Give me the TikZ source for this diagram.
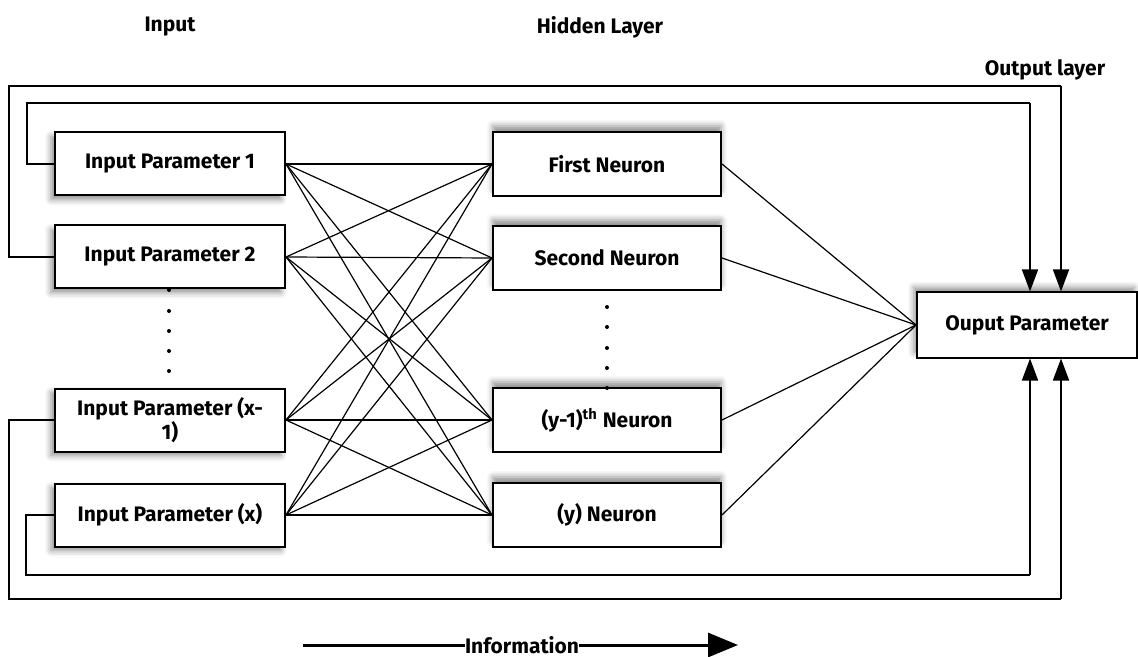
\documentclass[tikz,border=0pt]{standalone}
\usepackage{fontspec}
\setmainfont{Fira Sans}
\usepackage{tikz}
\usetikzlibrary{positioning,arrows.meta,shadows.blur}

\begin{document}
\begin{tikzpicture}[
		x=0.5pt, y=-0.5pt,
		font=\bfseries\fontsize{10.5}{12}\selectfont,
		inbox/.style={rectangle, draw=black, fill=white, line width=1pt, minimum width=115pt, minimum height=31.5pt, align=center,
			blur shadow={shadow xshift=-2pt, shadow yshift=-2pt, shadow blur radius=3pt, shadow opacity=45}},
		neuronbox/.style={rectangle, draw=black, fill=white, line width=1pt, minimum width=114pt, minimum height=32pt,
			blur shadow={shadow xshift=0pt, shadow yshift=3pt, shadow blur radius=3pt, shadow opacity=45}},
		outbox/.style={rectangle, draw=black, fill=white, line width=1pt, minimum width=110pt, minimum height=32.5pt,
			blur shadow={shadow xshift=-1.5pt, shadow yshift=2.5pt, shadow blur radius=3pt, shadow opacity=45}},
		link/.style={line width=0.6pt},
		feedback/.style={line width=0.8pt},
		fbarrow/.style={line width=0.8pt, -{Triangle[width=8pt,length=11pt]}},
	]
		\useasboundingbox (0,0) rectangle (1138,657);

		% titles
		\node (tinput)  at (170,27)  {Input};
		\node (thidden) at (600,27)  {Hidden Layer};
		\node (toutput) at (1045,70) {Output layer};

		% nodes
		\node[inbox] (in1)  at (170,164) {Input Parameter 1};
		\node[inbox] (in2)  at (170,257) {Input Parameter 2};
		\node[inbox] (inx1) at (170,420) {Input Parameter (x-\\1)};
		\node[inbox] (inx)  at (170,515) {Input Parameter (x)};

		\node[neuronbox] (n1)  at (607,164) {First Neuron};
		\node[neuronbox] (n2)  at (607,258) {Second Neuron};
		\node[neuronbox] (ny1) at (607,420) {(y-1)\textsuperscript{th} Neuron};
		\node[neuronbox] (ny)  at (607,515) {(y) Neuron};

		\node[outbox] (out) at (1027,325) {Ouput Parameter};

		% dots
		\foreach \y in {290,311,331,351,371}
			\fill (169,\y) circle (1pt);
		\foreach \y in {307,327,348,368,388}
			\fill (607,\y) circle (1pt);

		% lines
		\foreach \i in {in1,in2,inx1,inx}
			\foreach \j in {n1,n2,ny1,ny}
				\draw[link] (\i.east) -- (\j.west);
		\foreach \j in {n1,n2,ny1,ny}
			\draw[link] (\j.east) -- (out.west);

		% feedback loops
		\coordinate (topin)  at (1030,103);
		\coordinate (topout) at (1061,86);
		\coordinate (botin)  at (1030,575);
		\coordinate (botout) at (1061,599);
		\draw[feedback] (in1.west) -- ++(-27,0) |- (topin);
		\draw[fbarrow] (topin) -- (topin |- out.north);
		\draw[feedback] (in2.west) -- ++(-45,0) |- (topout);
		\draw[fbarrow] (topout) -- (topout |- out.north);
		\draw[feedback] (inx1.west) -- ++(-45,0) |- (botout);
		\draw[fbarrow] (botout) -- (botout |- out.south);
		\draw[feedback] (inx.west) -- ++(-28,0) |- (botin);
		\draw[fbarrow] (botin) -- (botin |- out.south);

		% information arrow
		\node[inner sep=0pt] (info) at (522,645) {Information};
		\coordinate (infol) at (303,645);
		\coordinate (infor) at (738,645);
		\draw[line width=1.5pt] (infol) -- (info.west);
		\draw[line width=1.5pt, -{Triangle[width=12pt,length=15pt]}] (info.east) -- (infor);
	\end{tikzpicture}
\end{document}
